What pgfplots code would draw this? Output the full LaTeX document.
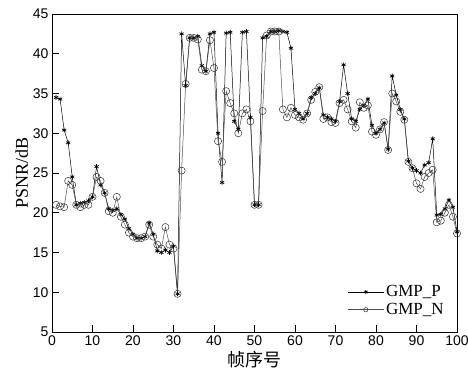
\documentclass[border=0pt]{standalone}
\usepackage{pgfplots}
\pgfplotsset{compat=1.18}
\usepackage{fontspec}
\setmainfont{Liberation Serif}
\newfontfamily\tickfont{Liberation Sans}
\newfontfamily\cjk{Noto Sans CJK SC}
\pgfplotstableread{
x p n
1 34.5 21.0
2 34.3 20.8
3 30.4 20.7
4 28.8 24.0
5 24.5 23.5
6 21.0 21.0
7 21.2 20.7
8 21.3 21.0
9 21.5 21.0
10 22.0 22.0
11 25.8 24.5
12 23.5 24.0
13 22.5 22.5
14 20.5 20.2
15 20.3 20.0
16 20.5 22.0
17 19.8 19.5
18 19.2 18.5
19 18.0 17.5
20 17.3 17.0
21 16.8 16.8
22 16.8 16.8
23 17.0 17.0
24 18.7 18.5
25 17.3 17.0
26 15.2 16.0
27 15.0 15.5
28 15.3 18.2
29 15.0 16.0
30 15.8 15.5
31 9.8 9.8
32 42.5 25.3
33 36.0 36.2
34 42.0 42.0
35 42.0 42.0
36 42.2 41.8
37 38.5 38.0
38 37.8 37.8
39 42.5 41.7
40 42.7 38.2
41 30.0 29.0
42 23.8 26.4
43 42.6 35.3
44 42.7 33.8
45 31.5 32.5
46 30.5 30.0
47 42.7 32.5
48 42.8 33.0
49 32.0 31.5
50 21.0 21.0
51 21.0 21.0
52 42.0 32.8
53 42.2 42.3
54 42.8 42.8
55 42.8 42.8
56 42.9 42.8
57 42.8 33.0
58 42.7 32.0
59 40.7 33.2
60 33.0 32.3
61 32.5 32.0
62 31.8 31.7
63 32.5 32.5
64 34.5 34.2
65 35.0 35.2
66 35.7 35.8
67 32.3 31.8
68 32.0 32.0
69 31.8 31.4
70 31.5 31.3
71 34.0 33.8
72 38.6 34.2
73 35.0 33.0
74 31.8 31.5
75 31.5 30.7
76 33.0 33.9
77 33.5 33.2
78 34.3 33.5
79 31.0 30.2
80 30.0 29.8
81 30.5 30.5
82 31.3 31.4
83 28.0 27.9
84 37.2 35.0
85 34.8 34.0
86 33.0 32.7
87 31.8 31.7
88 26.5 26.4
89 25.6 25.6
90 25.3 23.7
91 25.0 23.0
92 26.0 24.5
93 26.3 25.0
94 29.3 25.4
95 19.7 18.8
96 19.8 19.0
97 20.5 20.0
98 21.6 21.0
99 20.7 19.5
100 17.6 17.4
}\datatable
\begin{document}
\begin{tikzpicture}
\path[use as bounding box] (-52bp,-38bp) rectangle (416bp,332bp);
\begin{axis}[
  at={(0,0)}, anchor=south west,
  scale only axis, width=405bp, height=318bp,
  xmin=0, xmax=100, ymin=5, ymax=45,
  xtick={0,10,...,100}, ytick={5,10,...,45},
  tick align=inside, xtick pos=bottom, ytick pos=left,
  major tick length=7bp,
  axis line style={line width=0.8pt},
  tick style={black, line width=0.6pt},
  tick label style={font=\tickfont\fontsize{14bp}{16bp}\selectfont},
  /pgf/number format/assume math mode=true,
  xticklabel style={yshift=0bp},
  xlabel={\cjk\fontsize{18bp}{20bp}\selectfont 帧序号},
  ylabel={\fontsize{18bp}{20bp}\selectfont PSNR/dB},
  xlabel style={yshift=1bp},
  ylabel style={yshift=-2bp},
  legend style={draw=none, fill=none, at={(0.975,0.04)}, anchor=south east,
    font=\fontsize{17bp}{19bp}\selectfont, row sep=1bp,
    inner sep=1bp},
  legend cell align=left,
  legend image code/.code={
    \draw[#1, mark size=2.2pt, mark repeat=2, mark phase=2] plot coordinates {(0bp,0bp) (18bp,0bp) (36bp,0bp)};
  },
]
\addplot[black, line width=0.5pt, mark=asterisk, mark size=2.4pt, mark options={line width=0.7pt}] table[x=x,y=p] {\datatable};
\addlegendentry{GMP\_P}
\addplot[black!70, line width=0.5pt, mark=o, mark size=3.6pt, mark options={black!80, line width=0.5pt}] table[x=x,y=n] {\datatable};
\addlegendentry{GMP\_N}
\end{axis}
\end{tikzpicture}
\end{document}
